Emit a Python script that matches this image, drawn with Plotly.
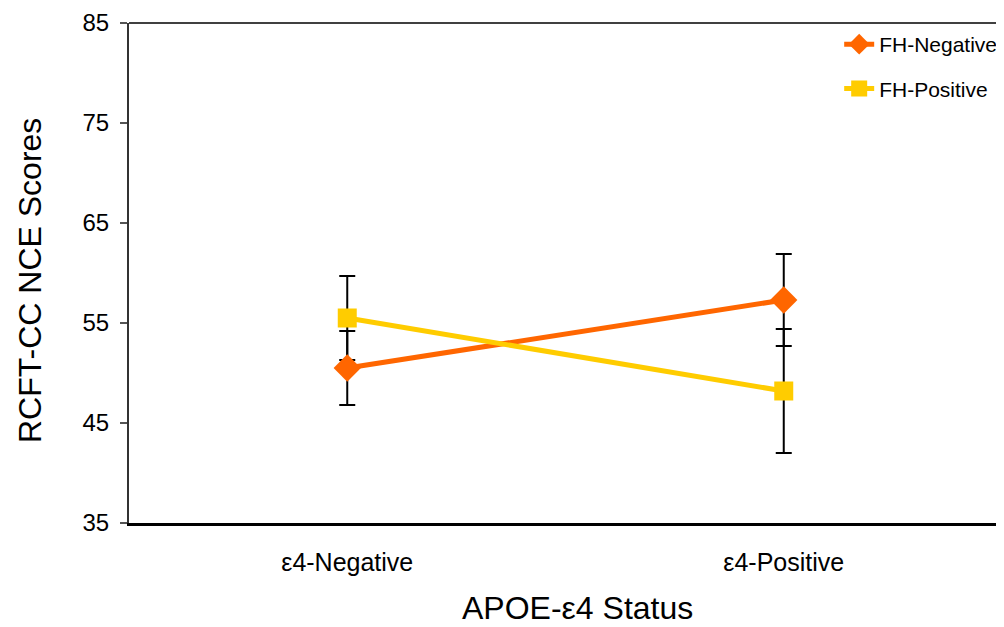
import plotly.graph_objects as go

categories = ["ε4-Negative", "ε4-Positive"]
fh_negative = [50.5, 57.3]
fh_negative_err = [3.7, 4.6]
fh_positive = [55.5, 48.2]
fh_positive_err = [4.2, 6.2]
y_ticks = [35, 45, 55, 65, 75, 85]

FONT = "Liberation Sans, Arial, sans-serif"

fig = go.Figure()
# error bars underneath the markers
for vals, errs in [(fh_negative, fh_negative_err), (fh_positive, fh_positive_err)]:
    fig.add_trace(go.Scatter(
        x=categories, y=vals, mode="markers", showlegend=False, hoverinfo="skip",
        marker=dict(size=1, opacity=0),
        error_y=dict(type="data", array=errs, color="black", thickness=2, width=8),
    ))

fig.add_trace(go.Scatter(
    x=categories, y=fh_negative, name="FH-Negative", mode="lines+markers",
    line=dict(color="#FF6600", width=5),
    marker=dict(symbol="diamond", size=21, color="#FF6600"),
    legendgroup="a",
))
fig.add_trace(go.Scatter(
    x=categories, y=fh_positive, name="FH-Positive", mode="lines+markers",
    line=dict(color="#FFCC00", width=5),
    marker=dict(symbol="square", size=19, color="#FFCC00"),
    legendgroup="b",
))

fig.update_layout(
    width=996, height=619,
    margin=dict(l=121, r=2, t=15, b=104),
    paper_bgcolor="white", plot_bgcolor="white",
    font=dict(family=FONT, color="black"),
    showlegend=True,
    legend=dict(x=0.8135, y=0.998, xanchor="left", yanchor="top",
                font=dict(size=21, family=FONT), bgcolor="rgba(0,0,0,0)",
                traceorder="grouped", tracegroupgap=14),
    xaxis=dict(
        type="category", range=[-0.5, 1.5],
        showline=True, linecolor="black", linewidth=3,
        ticks="", showgrid=False, zeroline=False,
        tickfont=dict(size=25, family=FONT),
        ticklabelstandoff=15,
    ),
    yaxis=dict(
        range=[35, 85], tickvals=y_ticks,
        showline=True, linecolor="#333333", linewidth=2,
        ticks="outside", ticklen=7, tickcolor="#555555", tickwidth=1.5,
        showgrid=False, zeroline=False,
        tickfont=dict(size=24, family=FONT),
        ticklabelstandoff=6,
    ),
    annotations=[
        dict(text="APOE-ε4 Status", xref="paper", yref="paper", x=0.5, y=0,
             xshift=12, yshift=-85, xanchor="center", yanchor="middle",
             showarrow=False, font=dict(size=32, family=FONT)),
        dict(text="RCFT-CC NCE Scores", xref="paper", yref="paper", x=0, y=0.5,
             xshift=-99, yshift=-8, xanchor="center", yanchor="middle", textangle=-90,
             showarrow=False, font=dict(size=32, family=FONT)),
    ],
    shapes=[
        dict(type="line", xref="paper", yref="paper", x0=0, x1=1, y0=1, y1=1,
             line=dict(color="black", width=1.5)),
        dict(type="line", xref="paper", yref="paper", x0=1, x1=1, y0=0, y1=1,
             line=dict(color="black", width=1.5)),
    ],
)

fig.write_html("out.html")
